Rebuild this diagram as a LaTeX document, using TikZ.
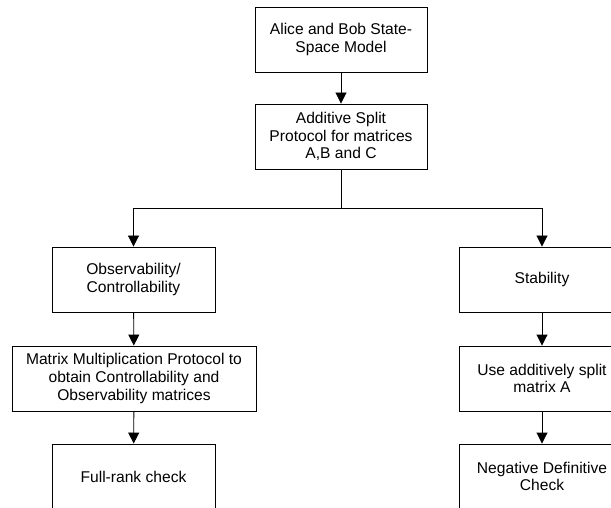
\documentclass[tikz,border=0pt]{standalone}
\usepackage{fontspec}
\setmainfont{Liberation Sans}
\usetikzlibrary{arrows.meta}
\begin{document}
\begin{tikzpicture}[x=1pt,y=-1pt,
  box/.style={draw, line width=0.9pt, minimum height=65pt, align=center,
    inner sep=2pt, font=\fontsize{15.6pt}{17.6pt}\selectfont},
  link/.style={line width=0.9pt, -{Triangle[width=11pt,length=11pt]}},
  plain/.style={line width=0.9pt}]
\useasboundingbox (0,0) rectangle (611,508);
\clip (0,0) rectangle (611,508);
% top of the flow
\node[box, minimum width=172pt] (model) at (341,39.5) {Alice and Bob State-\\Space Model};
\node[box, minimum width=172pt] (split) at (341,136.5) {Additive Split\\Protocol for matrices\\A,B and C};
\coordinate (fork) at (341,208);
% left branch
\node[box, minimum width=163pt] (obs) at (133.5,279.5) {Observability/\\Controllability};
\node[box, minimum width=244pt] (mult) at (134,378.5) {Matrix Multiplication Protocol to\\obtain Controllability and\\Observability matrices};
\node[box, minimum width=163pt] (rank) at (133.5,476.5) {Full-rank check};
% right branch
\node[box, minimum width=166pt] (stab) at (542,279.5) {Stability};
\node[box, minimum width=166pt] (usea) at (542,378.5) {Use additively split\\matrix A};
\node[box, minimum width=166pt] (neg) at (542,476.5) {Negative Definitive\\Check};
% connectors
\draw[link] (model) -- (split);
\draw[plain] (split) -- (fork);
\draw[link] (fork) -| (obs);
\draw[link] (fork) -| (stab);
\draw[link] (obs) -- (mult);
\draw[link] (mult) -- (rank);
\draw[link] (stab) -- (usea);
\draw[link] (usea) -- (neg);
\end{tikzpicture}
\end{document}
